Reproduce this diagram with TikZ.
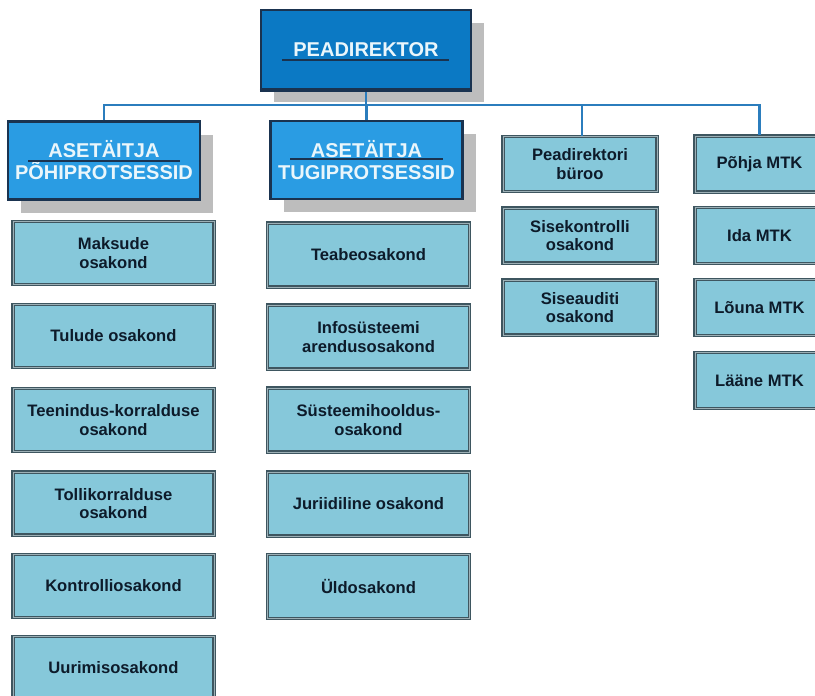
\documentclass[tikz,border=0pt]{standalone}
\usepackage{fontspec}
\setmainfont{Liberation Sans}
\usetikzlibrary{shadows}
\definecolor{pdblue}{HTML}{0B79C4}
\definecolor{asblue}{HTML}{2A9CE3}
\definecolor{navy}{HTML}{1A3350}
\definecolor{lightbox}{HTML}{86C8DA}
\definecolor{boxedge}{HTML}{3E5660}
\definecolor{boxgap}{HTML}{9DB0B6}
\definecolor{connblue}{HTML}{2B7DBD}
\definecolor{shadowgray}{HTML}{BDBDBD}
\definecolor{darktext}{HTML}{0D1B2A}
\definecolor{headtext}{HTML}{EAF6FB}
\tikzset{
  headbox/.style={draw=navy, line width=2.5pt, text=headtext, align=center,
    font=\bfseries\fontsize{20}{22}\selectfont, inner sep=0pt,
    general shadow={shadow xshift=13pt, shadow yshift=-13pt, fill=shadowgray, opacity=1}},
  deptbox/.style={draw=boxedge, line width=1.2pt, double=boxgap, double distance=1pt,
    fill=lightbox, text=darktext, align=center,
    font=\bfseries\fontsize{16.6}{18.5}\selectfont, inner sep=0pt},
  conn/.style={draw=connblue, line width=2.6pt},
  uline/.style={draw=navy, line width=1.6pt}
}
\begin{document}
\begin{tikzpicture}[x=1pt,y=-1pt]
\useasboundingbox (0,0) rectangle (815,696);
\clip (0,0) rectangle (815,696);
\fill[white] (0,0) rectangle (815,696);
% connectors (drawn first, under boxes)
\coordinate (bus) at (0,105);
% top
\node[headbox, fill=pdblue, minimum width=210pt, minimum height=79pt] (pd) at (366,49.5) {PEADIREKTOR};
\node[headbox, fill=asblue, minimum width=192pt, minimum height=78pt] (a1) at (104,160.5) {ASETÄITJA\\PÕHIPROTSESSID};
\node[headbox, fill=asblue, minimum width=192pt, minimum height=78pt] (a2) at (366.5,160) {ASETÄITJA\\TUGIPROTSESSID};
% left column
\foreach \n/\y/\t in {l1/253/{Maksude\\osakond}, l2/336/{Tulude osakond}, l3/420/{Teenindus-korralduse\\osakond}, l4/503.5/{Tollikorralduse\\osakond}, l5/586/{Kontrolliosakond}, l6/668/{Uurimisosakond}}
  \node[deptbox, minimum width=201pt, minimum height=63pt] (\n) at (113.5,\y) {\t};
% middle column
\foreach \n/\y/\t in {m1/255/{Teabeosakond}, m2/337/{Infosüsteemi\\arendusosakond}, m3/420/{Süsteemihooldus-\\osakond}, m4/504/{Juriidiline osakond}, m5/586.5/{Üldosakond}}
  \node[deptbox, minimum width=202pt, minimum height=64pt] (\n) at (368.5,\y) {\t};
% right column 1
\foreach \n/\y/\t in {r1/164/{Peadirektori\\büroo}, r2/235.5/{Sisekontrolli\\osakond}, r3/307.5/{Siseauditi\\osakond}}
  \node[deptbox, minimum width=154pt, minimum height=55pt] (\n) at (580,\y) {\t};
% right column 2
\foreach \n/\y/\t in {t1/164/{Põhja MTK}, t2/235.5/{Ida MTK}, t3/307.5/{Lõuna MTK}, t4/380.5/{Lääne MTK}}
  \node[deptbox, minimum width=129pt, minimum height=56pt] (\n) at (759.5,\y) {\t};
% connectors
\draw[conn] (pd.south) -- (pd.south |- bus);
\draw[conn] (a1.north) -- (a1.north |- bus) -| (t1.north);
\draw[conn] (a2.north) -- (a2.north |- bus);
\draw[conn] ([xshift=2pt]r1.north) -- ([xshift=2pt]r1.north |- bus);
% redraw tops over connectors' ends
\draw[navy, line width=2.5pt] (pd.south west) -- (pd.south east);
% underlines in headers
\draw[uline] (282,60) -- (449,60);
\draw[uline] (28,161) -- (180,161);
\draw[uline] (290,159) -- (443,159);
\end{tikzpicture}
\end{document}
